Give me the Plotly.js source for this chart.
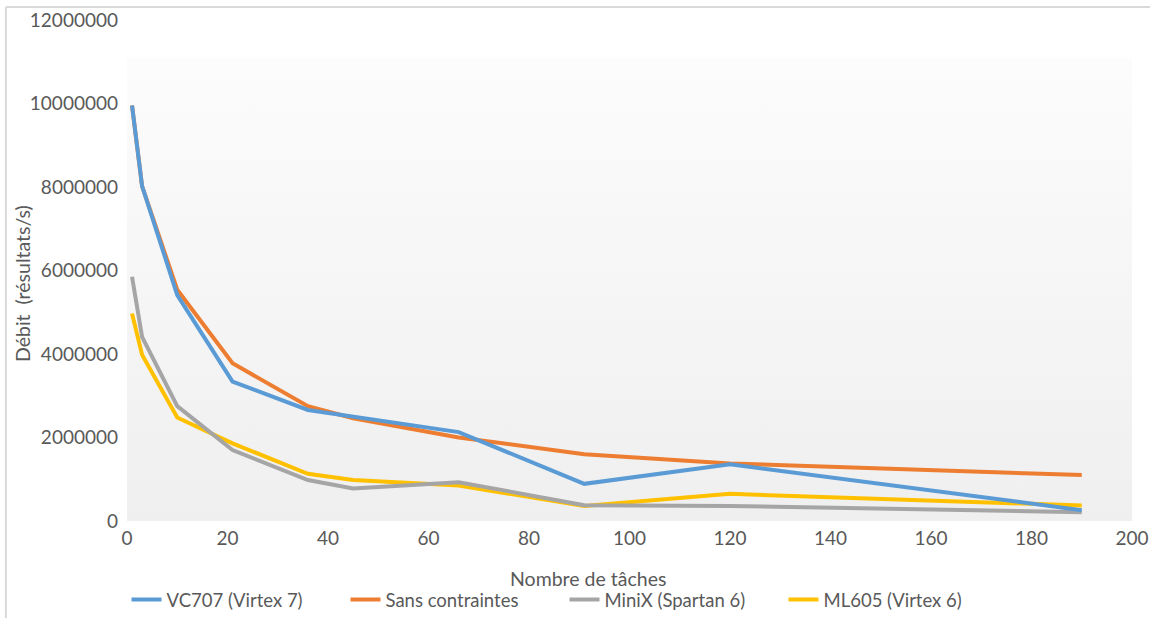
<!DOCTYPE html>
<html>
<head>
<meta charset="utf-8">
<script src="https://cdn.plot.ly/plotly-3.0.1.min.js"></script>
<style>html,body{margin:0;padding:0;background:#fff;}#chart{width:1150px;height:618px;}</style>
</head>
<body>
<div id="chart"></div>
<script>
const nbTaches = [1, 3, 10, 21, 36, 45, 66, 91, 120, 190];
const vc707 = [9950000, 8020000, 5410000, 3340000, 2660000, 2500000, 2130000, 890000, 1360000, 260000];
const sansContraintes = [9950000, 8020000, 5540000, 3780000, 2750000, 2460000, 2000000, 1600000, 1380000, 1100000];
const minix = [5850000, 4410000, 2750000, 1700000, 980000, 780000, 930000, 380000, 360000, 210000];
const ml605 = [4970000, 3980000, 2480000, 1860000, 1130000, 980000, 850000, 360000, 650000, 370000];
const seriesNames = ["VC707 (Virtex 7)", "Sans contraintes", "MiniX (Spartan 6)", "ML605 (Virtex 6)"];
const seriesColors = ["#5B9BD5", "#ED7D31", "#A5A5A5", "#FFC000"];
const xTitle = "Nombre de tâches";
const yTitle = "Débit\u00a0\u00a0(résultats/s)";
const xRange = [0, 200];
const yRange = [0, 12000000];
const plotAreaTop = 11100000;

const txt = "#595959";
const fontFam = "Lato, 'Open Sans', sans-serif";

const seriesData = [vc707, sansContraintes, minix, ml605];
const lineTraces = [];
for (let i = seriesData.length - 1; i >= 0; i--) {
  lineTraces.push({
    type: "scatter", mode: "lines", name: seriesNames[i],
    x: nbTaches, y: seriesData[i],
    line: {color: seriesColors[i], width: 4},
    hoverinfo: "x+y+name"
  });
}

const bg = {
  type: "scatter", mode: "none", showlegend: false, hoverinfo: "skip",
  x: [xRange[0], xRange[1], xRange[1], xRange[0], xRange[0]],
  y: [0, 0, plotAreaTop, plotAreaTop, 0],
  fill: "toself",
  fillgradient: {type: "vertical", colorscale: [[0, "#efefef"], [1, "#fcfcfc"]]}
};

const layout = {
  width: 1150, height: 618,
  margin: {l: 127, r: 18, t: 20, b: 97, autoexpand: false},
  paper_bgcolor: "#ffffff", plot_bgcolor: "rgba(0,0,0,0)",
  font: {family: fontFam, color: txt, size: 18},
  showlegend: true,
  legend: {
    orientation: "h", xref: "container", yref: "container",
    x: 0.11, xanchor: "left", y: 0.029, yanchor: "middle",
    entrywidth: 174, entrywidthmode: "pixels",
    traceorder: "reversed", font: {size: 18.5, color: txt, family: fontFam},
    bgcolor: "rgba(0,0,0,0)"
  },
  xaxis: {
    range: xRange, dtick: 20, tick0: 0, showgrid: false, zeroline: false, showline: false,
    ticks: "", ticklabelstandoff: 4, tickfont: {size: 19, color: txt, family: fontFam},
    automargin: false, fixedrange: true
  },
  yaxis: {
    range: yRange, dtick: 2000000, tick0: 0, showgrid: false, zeroline: false, showline: false,
    ticks: "", ticklabelstandoff: 8, tickformat: "d", tickfont: {size: 19, color: txt, family: fontFam},
    automargin: false, fixedrange: true
  },
  annotations: [
    {text: xTitle, xref: "paper", yref: "paper", x: 0.4587, y: -0.1138,
     xanchor: "center", yanchor: "middle", showarrow: false,
     font: {size: 19.5, color: txt, family: fontFam}},
    {text: yTitle, xref: "paper", yref: "paper", x: -0.1045, y: 0.475, textangle: -90,
     xanchor: "center", yanchor: "middle", showarrow: false,
     font: {size: 19.5, color: txt, family: fontFam}}
  ],
  shapes: [
    {type: "line", xref: "paper", yref: "paper", x0: -0.1205, x1: -0.1205, y0: -1, y1: 1.026,
     line: {color: "#d9d9d9", width: 2}},
    {type: "line", xref: "paper", yref: "paper", x0: -0.1205, x1: 1.05, y0: 1.026, y1: 1.026,
     line: {color: "#d9d9d9", width: 2}}
  ]
};

Plotly.newPlot("chart", [bg].concat(lineTraces), layout, {displayModeBar: false, staticPlot: true});
</script>
</body>
</html>
